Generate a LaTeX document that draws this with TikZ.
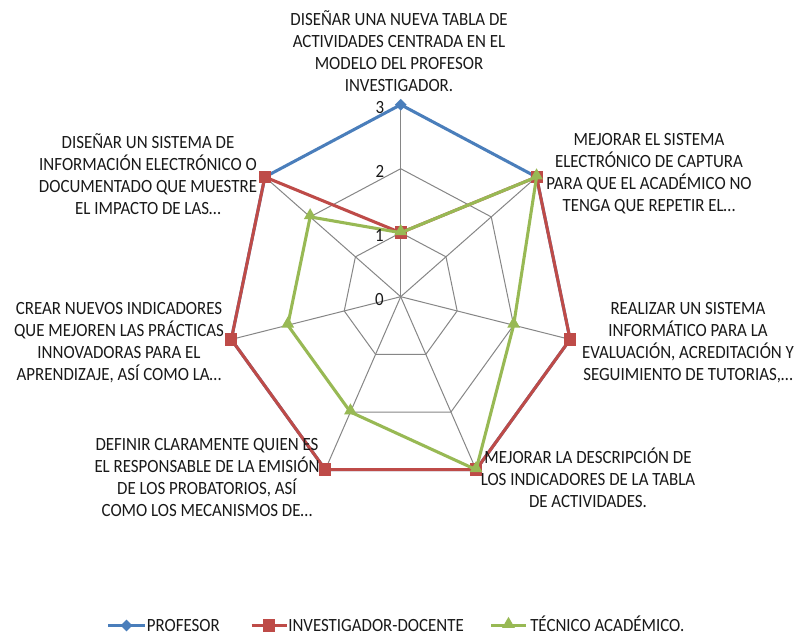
\documentclass[tikz,border=0pt]{standalone}
\usepackage{fontspec}
\setmainfont{Carlito}[FakeStretch=0.905]
\usetikzlibrary{shapes.geometric}
\definecolor{sblue}{HTML}{4A7EBB}
\definecolor{sred}{HTML}{BE4B48}
\definecolor{sgreen}{HTML}{98B954}
\definecolor{gridgray}{HTML}{868686}
\tikzset{
  gridline/.style={draw=gridgray, line width=0.75pt},
  serline/.style={line width=2.3pt, line join=round},
  lbl/.style={align=center, inner sep=0pt, font=\fontsize{14}{16.5}\selectfont, text=black!90},
  tick/.style={inner sep=0pt, font=\fontsize{14}{16.5}\selectfont, text=black!90},
  bmark/.style={diamond, aspect=0.95, fill=sblue, inner sep=0pt, minimum size=9pt},
  rmark/.style={rectangle, fill=sred, inner sep=0pt, minimum width=9pt, minimum height=9.5pt},
  gmark/.style={regular polygon, regular polygon sides=3, fill=sgreen, inner sep=0pt, minimum size=11pt, yshift=1pt},
}
\begin{document}
\begin{tikzpicture}[x=0.75pt, y=-0.75pt]
\path[use as bounding box, fill=white] (0,0) rectangle (801,636);

\begin{scope}[shift={(400.7,296.7)}, x=43.44pt, y=48pt]
  \coordinate (O) at (0,0);
  % grid rings
  \foreach \r in {1,2,3}
    \draw[gridline] (90:\r) \foreach \k in {1,...,6}{ -- ({90-\k*360/7}:\r) } -- cycle;
  % spokes
  \foreach \k in {0,...,6} {
    \coordinate (ax\k) at ({90-\k*360/7}:3);
    \draw[gridline] (O) -- (ax\k);
  }
  % series coordinates
  \foreach \v [count=\k from 0] in {3,3,3,3,3,3,3}
    \coordinate (b\k) at ({90-\k*360/7}:\v);
  \foreach \v [count=\k from 0] in {1,3,3,3,3,3,3}
    \coordinate (r\k) at ({90-\k*360/7}:\v);
  \foreach \v [count=\k from 0] in {1,3,2,3,2,2,2}
    \coordinate (g\k) at ({90-\k*360/7}:\v);
  % PROFESOR
  \draw[serline, sblue] (b0) -- (b1) -- (b2) -- (b3) -- (b4) -- (b5) -- (b6) -- cycle;
  \foreach \k in {0,...,6} \node[bmark] (bm\k) at (b\k) {};
  % INVESTIGADOR-DOCENTE
  \draw[serline, sred] (r0) -- (r1) -- (r2) -- (r3) -- (r4) -- (r5) -- (r6) -- cycle;
  \foreach \k in {0,...,6} \node[rmark] (rm\k) at (r\k) {};
  % TECNICO ACADEMICO
  \draw[serline, sgreen] (g0) -- (g1) -- (g2) -- (g3) -- (g4) -- (g5) -- (g6) -- cycle;
  \foreach \k in {0,...,6} \node[gmark] (gm\k) at (g\k) {};
\end{scope}

% tick labels
\node[tick] (t3) at (380,108) {3};
\node[tick] (t2) at (380,171.5) {2};
\node[tick] (t1) at (379.5,235) {1};
\node[tick] (t0) at (379.5,300) {0};

% axis labels
\node[lbl] (L0) at (399,51) {DISEÑAR UNA NUEVA TABLA DE\\ACTIVIDADES CENTRADA EN EL\\MODELO DEL PROFESOR\\INVESTIGADOR.};
\node[lbl] (L1) at (649,174) {MEJORAR EL SISTEMA\\ELECTRÓNICO DE CAPTURA\\PARA QUE EL ACADÉMICO NO\\TENGA QUE REPETIR EL…};
\node[lbl] (L2) at (688,343) {REALIZAR UN SISTEMA\\INFORMÁTICO PARA LA\\EVALUACIÓN, ACREDITACIÓN Y\\SEGUIMIENTO DE TUTORIAS,…};
\node[lbl] (L3) at (588,477.5) {MEJORAR LA DESCRIPCIÓN DE\\LOS INDICADORES DE LA TABLA\\DE ACTIVIDADES.};
\node[lbl] (L4) at (207,478) {DEFINIR CLARAMENTE QUIEN ES\\EL RESPONSABLE DE LA EMISIÓN\\DE LOS PROBATORIOS, ASÍ\\COMO LOS MECANISMOS DE…};
\node[lbl] (L5) at (119,343) {CREAR NUEVOS INDICADORES\\QUE MEJOREN LAS PRÁCTICAS\\INNOVADORAS PARA EL\\APRENDIZAJE, ASÍ COMO LA…};
\node[lbl] (L6) at (148,174) {DISEÑAR UN SISTEMA DE\\INFORMACIÓN ELECTRÓNICO O\\DOCUMENTADO QUE MUESTRE\\EL IMPACTO DE LAS…};

% legend
\coordinate (lb1) at (108,625.5); \coordinate (lb2) at (145,625.5);
\draw[serline, sblue] (lb1) -- (lb2);
\node[bmark] (lbm) at (126.5,625.5) {};
\node[tick, anchor=base west] (lbt) at (146.7,631.5) {PROFESOR};
\coordinate (lr1) at (251.5,625.5); \coordinate (lr2) at (286.5,625.5);
\draw[serline, sred] (lr1) -- (lr2);
\node[rmark] (lrm) at (269,625.5) {};
\node[tick, anchor=base west] (lrt) at (288,631.5) {INVESTIGADOR-DOCENTE};
\coordinate (lg1) at (491,625.5); \coordinate (lg2) at (526,625.5);
\draw[serline, sgreen] (lg1) -- (lg2);
\node[gmark] (lgm) at (508.5,625.5) {};
\node[tick, anchor=base west] (lgt) at (530,631.5) {TÉCNICO ACADÉMICO.};
\end{tikzpicture}
\end{document}
